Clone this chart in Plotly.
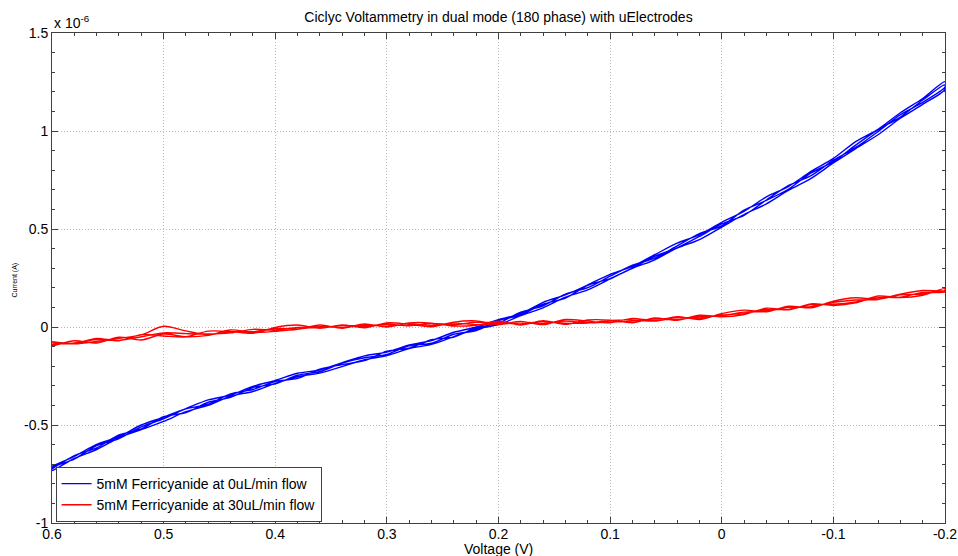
import plotly.graph_objects as go

# Voltage sweep grid (V), from 0.6 down to -0.2
voltage = [0.60, 0.58, 0.56, 0.54, 0.52, 0.50, 0.48, 0.46, 0.44, 0.42,
           0.40, 0.38, 0.36, 0.34, 0.32, 0.30, 0.28, 0.26, 0.24, 0.22,
           0.20, 0.18, 0.16, 0.14, 0.12, 0.10, 0.08, 0.06, 0.04, 0.02,
           0.00, -0.02, -0.04, -0.06, -0.08, -0.10, -0.12, -0.14, -0.16, -0.18, -0.20]

# Current in units of 1e-6 A, 0 uL/min flow (four sweeps)
blue_s1 = [-0.710, -0.660, -0.599, -0.559, -0.500, -0.460, -0.416, -0.372, -0.347, -0.303,
           -0.272, -0.236, -0.219, -0.182, -0.147, -0.128, -0.092, -0.069, -0.027, 0.000,
           0.038, 0.068, 0.126, 0.164, 0.215, 0.269, 0.309, 0.369, 0.428, 0.470,
           0.534, 0.590, 0.664, 0.718, 0.794, 0.860, 0.946, 1.009, 1.093, 1.166, 1.252]
blue_s2 = [-0.732, -0.670, -0.625, -0.565, -0.524, -0.482, -0.432, -0.400, -0.353, -0.329,
           -0.288, -0.254, -0.235, -0.202, -0.167, -0.146, -0.110, -0.089, -0.049, -0.010,
           0.012, 0.058, 0.098, 0.152, 0.189, 0.245, 0.299, 0.343, 0.402, 0.446,
           0.510, 0.574, 0.628, 0.698, 0.758, 0.837, 0.910, 0.981, 1.065, 1.136, 1.212]
blue_s3 = [-0.718, -0.674, -0.605, -0.569, -0.510, -0.468, -0.418, -0.394, -0.341, -0.319,
           -0.278, -0.262, -0.215, -0.192, -0.171, -0.124, -0.108, -0.065, -0.051, -0.004,
           0.020, 0.076, 0.108, 0.168, 0.201, 0.259, 0.315, 0.351, 0.414, 0.476,
           0.516, 0.596, 0.646, 0.704, 0.786, 0.843, 0.928, 1.007, 1.071, 1.158, 1.236]
blue_s4 = [-0.724, -0.656, -0.617, -0.551, -0.520, -0.458, -0.436, -0.384, -0.359, -0.309,
           -0.290, -0.246, -0.227, -0.184, -0.157, -0.140, -0.096, -0.083, -0.037, -0.018,
           0.032, 0.062, 0.116, 0.148, 0.213, 0.247, 0.301, 0.361, 0.404, 0.462,
           0.526, 0.570, 0.648, 0.722, 0.772, 0.851, 0.916, 0.997, 1.083, 1.146, 1.224]

# Current in units of 1e-6 A, 30 uL/min flow (four sweeps)
red_s1 = [-0.075, -0.083, -0.058, -0.070, -0.039, -0.046, -0.050, -0.021, -0.023, -0.032,
          -0.002, 0.010, -0.006, 0.010, -0.004, 0.021, 0.013, 0.001, 0.025, 0.031,
          0.013, 0.028, 0.012, 0.038, 0.030, 0.021, 0.044, 0.032, 0.052, 0.038,
          0.068, 0.086, 0.078, 0.106, 0.098, 0.132, 0.149, 0.142, 0.168, 0.186, 0.186]
red_s2 = [-0.095, -0.070, -0.082, -0.052, -0.066, -0.036, -0.050, -0.043, -0.015, -0.028,
          -0.022, -0.012, 0.010, -0.006, 0.016, 0.000, 0.021, 0.020, 0.005, 0.009,
          0.029, 0.010, 0.032, 0.014, 0.036, 0.035, 0.022, 0.046, 0.034, 0.060,
          0.052, 0.064, 0.096, 0.088, 0.118, 0.110, 0.123, 0.158, 0.150, 0.162, 0.196]
red_s3 = [-0.090, -0.082, -0.064, -0.068, -0.050, -0.030, -0.034, -0.036, -0.030, -0.012,
          -0.016, -0.002, -0.004, 0.008, 0.004, 0.014, 0.006, 0.018, 0.012, 0.024,
          0.022, 0.016, 0.028, 0.020, 0.020, 0.034, 0.036, 0.030, 0.048, 0.046,
          0.062, 0.068, 0.088, 0.090, 0.114, 0.116, 0.128, 0.150, 0.152, 0.176, 0.178]
red_s4 = [-0.080, -0.086, -0.074, -0.058, -0.040, 0.004, -0.020, -0.040, -0.024, -0.024,
          -0.008, -0.010, 0.002, -0.002, 0.010, 0.004, 0.016, 0.008, 0.020, 0.012,
          0.016, 0.026, 0.018, 0.030, 0.022, 0.026, 0.030, 0.040, 0.038, 0.054,
          0.058, 0.076, 0.080, 0.100, 0.104, 0.126, 0.138, 0.140, 0.164, 0.168, 0.184]

series_names = ["5mM Ferricyanide at 0uL/min flow", "5mM Ferricyanide at 30uL/min flow"]
x_ticks = [0.6, 0.5, 0.4, 0.3, 0.2, 0.1, 0, -0.1, -0.2]
x_tick_text = ["0.6", "0.5", "0.4", "0.3", "0.2", "0.1", "0", "-0.1", "-0.2"]
y_ticks = [-1, -0.5, 0, 0.5, 1, 1.5]
y_tick_text = ["-1", "-0.5", "0", "0.5", "1", "1.5"]


def cycle(sweeps):
    xs, ys = [], []
    for i, s in enumerate(sweeps):
        if i % 2 == 0:
            xs += voltage
            ys += s
        else:
            xs += voltage[::-1]
            ys += s[::-1]
    return xs, ys


FONT = "Liberation Sans, Arial, sans-serif"
fig = go.Figure()
bx, by = cycle([blue_s1, blue_s2, blue_s3, blue_s4])
rx, ry = cycle([red_s1, red_s2, red_s3, red_s4])
fig.add_trace(go.Scatter(x=bx, y=by, mode="lines", name=series_names[0],
                         line=dict(color="#0000ff", width=1.4, shape="spline", smoothing=0.8)))
fig.add_trace(go.Scatter(x=rx, y=ry, mode="lines", name=series_names[1],
                         line=dict(color="#ff0000", width=1.4, shape="spline", smoothing=0.8)))

axis_common = dict(
    showline=True, linecolor="#404040", linewidth=1, mirror="ticks",
    ticks="inside", ticklen=6, tickcolor="#404040", tickwidth=1,
    showgrid=True, gridcolor="#b8b8b8", griddash="1px,2px", gridwidth=1,
    zeroline=False, automargin=False,
    tickfont=dict(family=FONT, size=14, color="#000"),
)
fig.update_xaxes(range=[0.6, -0.2], tickvals=x_ticks, ticktext=x_tick_text,
                 ticklabelstandoff=-2,
                 minor=dict(dtick=0.02, ticks="inside", ticklen=3, tickcolor="#404040", showgrid=False),
                 **axis_common)
fig.update_yaxes(range=[-1, 1.5], tickvals=y_ticks, ticktext=y_tick_text,
                 minor=dict(dtick=0.1, ticks="inside", ticklen=3, tickcolor="#404040", showgrid=False),
                 **axis_common)

fig.update_layout(
    width=958, height=556,
    margin=dict(l=52, r=13, t=33, b=33),
    paper_bgcolor="white", plot_bgcolor="white",
    font=dict(family=FONT, size=14, color="#000"),
    title=dict(text="Ciclyc Voltammetry in dual mode (180 phase) with uElectrodes",
               x=(52 + 945) / 2 / 958, xanchor="center", y=1 - 17 / 556, yanchor="middle",
               yref="container", font=dict(family=FONT, size=14, color="#000")),
    legend=dict(x=0.004, y=0.002, xanchor="left", yanchor="bottom",
                bgcolor="white", bordercolor="#404040", borderwidth=1,
                font=dict(family=FONT, size=14, color="#000"),
                tracegroupgap=0, itemwidth=30),
    showlegend=True,
    annotations=[
        dict(text="x 10<sup>-6</sup>", xref="paper", yref="paper", x=0, y=1,
             xanchor="left", yanchor="bottom", showarrow=False,
             font=dict(family=FONT, size=14, color="#000")),
        dict(text="Voltage (V)", xref="paper", yref="paper", x=0.5, y=-(549 - 523) / 490,
             xanchor="center", yanchor="middle", showarrow=False,
             font=dict(family=FONT, size=14, color="#000")),
        dict(text="Current (A)", xref="paper", yref="paper", x=(15 - 52) / 893, y=0.495,
             xanchor="center", yanchor="middle", showarrow=False, textangle=-90,
             font=dict(family=FONT, size=7, color="#000")),
    ],
)

fig.write_html("out.html")
